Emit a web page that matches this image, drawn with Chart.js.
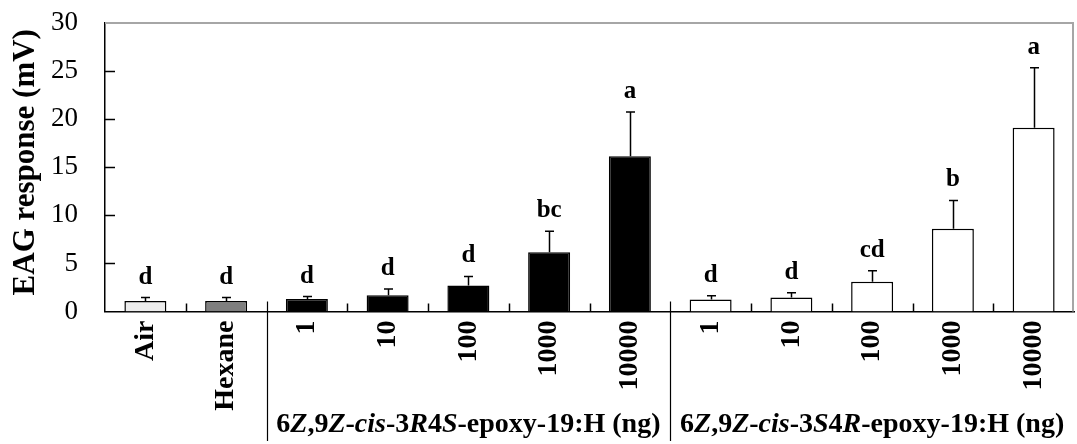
<!DOCTYPE html>
<html>
<head>
<meta charset="utf-8">
<script src="https://cdn.jsdelivr.net/npm/chart.js@4/dist/chart.umd.min.js"></script>
<style>
  html, body { margin: 0; padding: 0; background: #ffffff; }
  #wrap { width: 1077px; height: 444px; }
</style>
</head>
<body>
<div id="wrap"><canvas id="eag" width="1077" height="444"></canvas></div>
<script>
// Treatments along the x axis
const categories = ['Air', 'Hexane', '1', '10', '100', '1000', '10000', '1', '10', '100', '1000', '10000'];
// Mean EAG response (mV) and standard error for each treatment
const responses = [1.1, 1.1, 1.3, 1.7, 2.7, 6.15, 16.15, 1.25, 1.45, 3.1, 8.6, 19.1];
const errors    = [0.35, 0.35, 0.25, 0.65, 0.95, 2.2, 4.6, 0.4, 0.5, 1.15, 2.95, 6.25];
// Mean separation letters
const letters   = ['d', 'd', 'd', 'd', 'd', 'bc', 'a', 'd', 'd', 'cd', 'b', 'a'];
// Y axis tick values
const yTicks = [0, 5, 10, 15, 20, 25, 30];
const yTitle = 'EAG response (mV)';
// Dose groups: first and last category index, and label pieces [text, italic]
const groupRanges = [[2, 6], [7, 11]];
const groupLabels = [
  [['6', false], ['Z', true], [',9', false], ['Z', true], ['-', false], ['cis', true], ['-3', false], ['R', true], ['4', false], ['S', true], ['-epoxy-19:H (ng)', false]],
  [['6', false], ['Z', true], [',9', false], ['Z', true], ['-', false], ['cis', true], ['-3', false], ['S', true], ['4', false], ['R', true], ['-epoxy-19:H (ng)', false]]
];

const SERIF = '"Liberation Serif", "Times New Roman", serif';
const fills = ['#ececec', '#7f7f7f', '#000000', '#000000', '#000000', '#000000', '#000000',
               '#ffffff', '#ffffff', '#ffffff', '#ffffff', '#ffffff'];

const decorations = {
  id: 'decorations',
  afterDatasetsDraw(chart) {
    const ctx = chart.ctx;
    const x = chart.scales.x, y = chart.scales.y;
    const area = chart.chartArea;
    ctx.save();

    // top and right frame
    ctx.strokeStyle = '#a6a6a6';
    ctx.lineWidth = 2;
    ctx.beginPath();
    ctx.moveTo(area.left, area.top);
    ctx.lineTo(area.right - 1, area.top);
    ctx.lineTo(area.right - 1, area.bottom);
    ctx.stroke();

    // inward tick marks on the value axis
    ctx.strokeStyle = '#000';
    ctx.lineWidth = 1.5;
    yTicks.forEach(v => {
      if (v === 0 || v === 30) return;
      const py = Math.round(y.getPixelForValue(v)) + 0.5;
      ctx.beginPath();
      ctx.moveTo(area.left, py);
      ctx.lineTo(area.left + 10, py);
      ctx.stroke();
    });

    // value axis title
    ctx.save();
    ctx.translate(26, (area.top + area.bottom) / 2 - 5);
    ctx.rotate(-Math.PI / 2);
    ctx.font = 'bold 31px ' + SERIF;
    ctx.fillStyle = '#000';
    ctx.textAlign = 'center';
    ctx.textBaseline = 'middle';
    ctx.fillText(yTitle, 0, 0);
    ctx.restore();

    // boundaries between categories: short inner ticks, long separators between groups
    const separators = [1, 6];
    for (let i = 0; i < categories.length - 1; i++) {
      const bx = Math.round((x.getPixelForValue(i) + x.getPixelForValue(i + 1)) / 2) + 0.5;
      ctx.lineWidth = separators.includes(i) ? 1.2 : 1.5;
      ctx.beginPath();
      if (separators.includes(i)) {
        ctx.moveTo(bx, area.bottom - 10);
        ctx.lineTo(bx, 441);
      } else {
        ctx.moveTo(bx, area.bottom - 8);
        ctx.lineTo(bx, area.bottom);
      }
      ctx.stroke();
    }

    // error bars (upper only) and letters
    const meta = chart.getDatasetMeta(0);
    ctx.lineWidth = 1.5;
    ctx.font = 'bold 25px ' + SERIF;
    ctx.fillStyle = '#000';
    ctx.textAlign = 'center';
    ctx.textBaseline = 'alphabetic';
    meta.data.forEach((bar, i) => {
      const cx = Math.round(bar.x) + 0.5;
      const top = y.getPixelForValue(responses[i]);
      const et = y.getPixelForValue(responses[i] + errors[i]);
      ctx.beginPath();
      ctx.moveTo(cx, top);
      ctx.lineTo(cx, et);
      ctx.moveTo(cx - 4.5, et);
      ctx.lineTo(cx + 4.5, et);
      ctx.stroke();
      ctx.fillText(letters[i], bar.x, et - 14);
    });

    // dose group labels with italic stereo descriptors
    ctx.textAlign = 'left';
    groupRanges.forEach((range, g) => {
      const center = (x.getPixelForValue(range[0]) + x.getPixelForValue(range[1])) / 2;
      const parts = groupLabels[g];
      const fontFor = it => (it ? 'italic bold 28px ' : 'bold 28px ') + SERIF;
      let total = 0;
      parts.forEach(([t, it]) => { ctx.font = fontFor(it); total += ctx.measureText(t).width; });
      let px = center - total / 2;
      parts.forEach(([t, it]) => {
        ctx.font = fontFor(it);
        ctx.fillText(t, px, 432);
        px += ctx.measureText(t).width;
      });
    });
    ctx.restore();
  }
};

new Chart(document.getElementById('eag'), {
  type: 'bar',
  data: {
    labels: categories,
    datasets: [{
      data: responses,
      backgroundColor: fills,
      borderColor: '#000',
      borderWidth: 1.5,
      barPercentage: 0.52,
      categoryPercentage: 1.0
    }]
  },
  options: {
    responsive: false,
    animation: false,
    devicePixelRatio: 1,
    layout: { padding: { top: 23, right: 3, left: 0, bottom: 0 } },
    plugins: { legend: { display: false }, tooltip: { enabled: false } },
    scales: {
      x: {
        offset: true,
        grid: { display: false, drawTicks: false },
        border: { color: '#000', width: 1.5 },
        ticks: {
          minRotation: 90, maxRotation: 90, padding: 9, autoSkip: false,
          color: '#000', font: { family: SERIF, size: 28, weight: 'bold' }
        },
        afterFit(scale) {
          scale.height = 132.5;
          scale.paddingLeft = 0;
          scale.paddingRight = 0;
        }
      },
      y: {
        min: 0, max: 30,
        grid: { display: false, drawTicks: false },
        border: { color: '#000', width: 1.5 },
        ticks: {
          stepSize: 5, padding: 27, color: '#000',
          font: { family: SERIF, size: 27 }
        },
        afterFit(scale) {
          scale.width = 105;
          scale.paddingTop = 0;
          scale.paddingBottom = 0;
        }
      }
    }
  },
  plugins: [decorations]
});
</script>
</body>
</html>
